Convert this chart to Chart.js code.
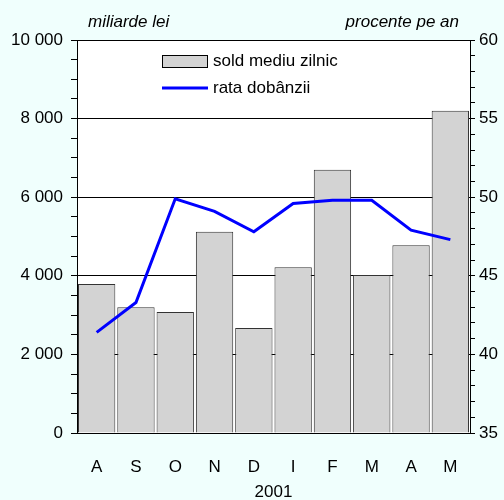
<!DOCTYPE html>
<html>
<head>
<meta charset="utf-8">
<script src="https://cdn.jsdelivr.net/npm/chart.js@4"></script>
<style>
    html, body { margin: 0; padding: 0; background: #f0fffd; }
    #wrap { width: 504px; height: 500px; }
</style>
</head>
<body>
<div id="wrap"><canvas id="chart"></canvas></div>
<script>
// Data
const months = ['A', 'S', 'O', 'N', 'D', 'I', 'F', 'M', 'A', 'M'];
const soldMediu = [3790, 3200, 3080, 5120, 2670, 4220, 6700, 4020, 4780, 8200];
const rataDobanzii = [41.4, 43.3, 49.9, 49.1, 47.8, 49.6, 49.8, 49.8, 47.9, 47.3];
const leftTickLabels = [0, 2000, 4000, 6000, 8000, 10000];
const rightTickLabels = [35, 40, 45, 50, 55, 60];
const legendLabels = ['sold mediu zilnic', 'rata dobânzii'];
const leftTitle = 'miliarde lei';
const rightTitle = 'procente pe an';
const yearLabel = '2001';

const FONT = '"Liberation Sans", Arial, sans-serif';

function fmt(v) {
    return String(v).replace(/\B(?=(\d{3})+(?!\d))/g, ' ');
}

// white plot area behind everything
const plotBackground = {
    id: 'plotBackground',
    beforeDraw(chart) {
        const {ctx, chartArea: a} = chart;
        ctx.save();
        ctx.fillStyle = '#ffffff';
        ctx.fillRect(a.left, a.top, a.right - a.left, a.bottom - a.top);
        ctx.restore();
    }
};

// axis titles above the plot and legend inside it
const extras = {
    id: 'extras',
    afterDraw(chart) {
        const {ctx, chartArea: a} = chart;
        ctx.save();
        ctx.font = 'italic 17px ' + FONT;
        ctx.fillStyle = '#000';
        ctx.textBaseline = 'middle';
        ctx.textAlign = 'left';
        ctx.fillText(leftTitle, a.left + 11, 22);
        ctx.textAlign = 'right';
        ctx.fillText(rightTitle, a.right - 11, 22);

        // legend
        const lx = 162, ly = 61;
        ctx.fillStyle = '#d3d3d3';
        ctx.fillRect(lx, ly - 6, 45, 12);
        ctx.strokeStyle = '#000';
        ctx.lineWidth = 1;
        ctx.strokeRect(lx + 0.5, ly - 5.5, 45, 12);
        ctx.strokeStyle = '#0000ff';
        ctx.lineWidth = 3;
        ctx.beginPath();
        ctx.moveTo(lx, ly + 27);
        ctx.lineTo(lx + 46, ly + 27);
        ctx.stroke();
        ctx.font = '17px ' + FONT;
        ctx.fillStyle = '#000';
        ctx.textAlign = 'left';
        ctx.fillText(legendLabels[0], lx + 51, ly);
        ctx.fillText(legendLabels[1], lx + 51, ly + 27);
        ctx.restore();
    }
};

new Chart(document.getElementById('chart'), {
    data: {
        labels: months,
        datasets: [{
            type: 'line',
            label: legendLabels[1],
            data: rataDobanzii,
            yAxisID: 'y2',
            borderColor: '#0000ff',
            borderWidth: 3,
            pointRadius: 0,
            tension: 0,
            order: 0
        }, {
            type: 'bar',
            label: legendLabels[0],
            data: soldMediu,
            yAxisID: 'y',
            backgroundColor: '#d3d3d3',
            borderColor: '#333333',
            borderWidth: 1,
            barPercentage: 0.95,
            categoryPercentage: 1,
            order: 1
        }]
    },
    options: {
        responsive: true,
        maintainAspectRatio: false,
        animation: false,
        layout: { padding: { top: 40, left: 0, right: 0, bottom: 0 } },
        plugins: {
            legend: { display: false },
            tooltip: { enabled: false }
        },
        scales: {
            x: {
                grid: { display: false },
                border: { display: true, color: '#000', width: 1 },
                ticks: {
                    color: '#000',
                    font: { family: FONT, size: 17 },
                    padding: 16,
                    maxRotation: 0
                },
                title: {
                    display: true,
                    text: yearLabel,
                    color: '#000',
                    font: { family: FONT, size: 17, lineHeight: 1 },
                    padding: { top: 0, bottom: -1 }
                },
                afterFit(scale) { scale.height = 67; }
            },
            y: {
                position: 'left',
                min: leftTickLabels[0],
                max: leftTickLabels[leftTickLabels.length - 1],
                ticks: {
                    stepSize: 500,
                    color: '#000',
                    font: { family: FONT, size: 17 },
                    padding: 8,
                    autoSkip: false,
                    callback: v => leftTickLabels.includes(v) ? fmt(v) : ''
                },
                grid: {
                    color: c => (c.tick && leftTickLabels.includes(c.tick.value)) ? '#000' : 'rgba(0,0,0,0)',
                    tickColor: '#000',
                    tickLength: 6,
                    lineWidth: 1
                },
                border: { display: true, color: '#000', width: 1 },
                afterFit(scale) { scale.width = 77; }
            },
            y2: {
                position: 'right',
                min: rightTickLabels[0],
                max: rightTickLabels[rightTickLabels.length - 1],
                ticks: {
                    stepSize: 1,
                    color: '#000',
                    font: { family: FONT, size: 17 },
                    padding: 4,
                    autoSkip: false,
                    callback: v => rightTickLabels.includes(v) ? String(v) : ''
                },
                grid: {
                    drawOnChartArea: false,
                    tickColor: '#000',
                    tickLength: 5
                },
                border: { display: true, color: '#000', width: 1 },
                afterFit(scale) { scale.width = 34; }
            }
        }
    },
    plugins: [plotBackground, extras]
});
</script>
</body>
</html>
